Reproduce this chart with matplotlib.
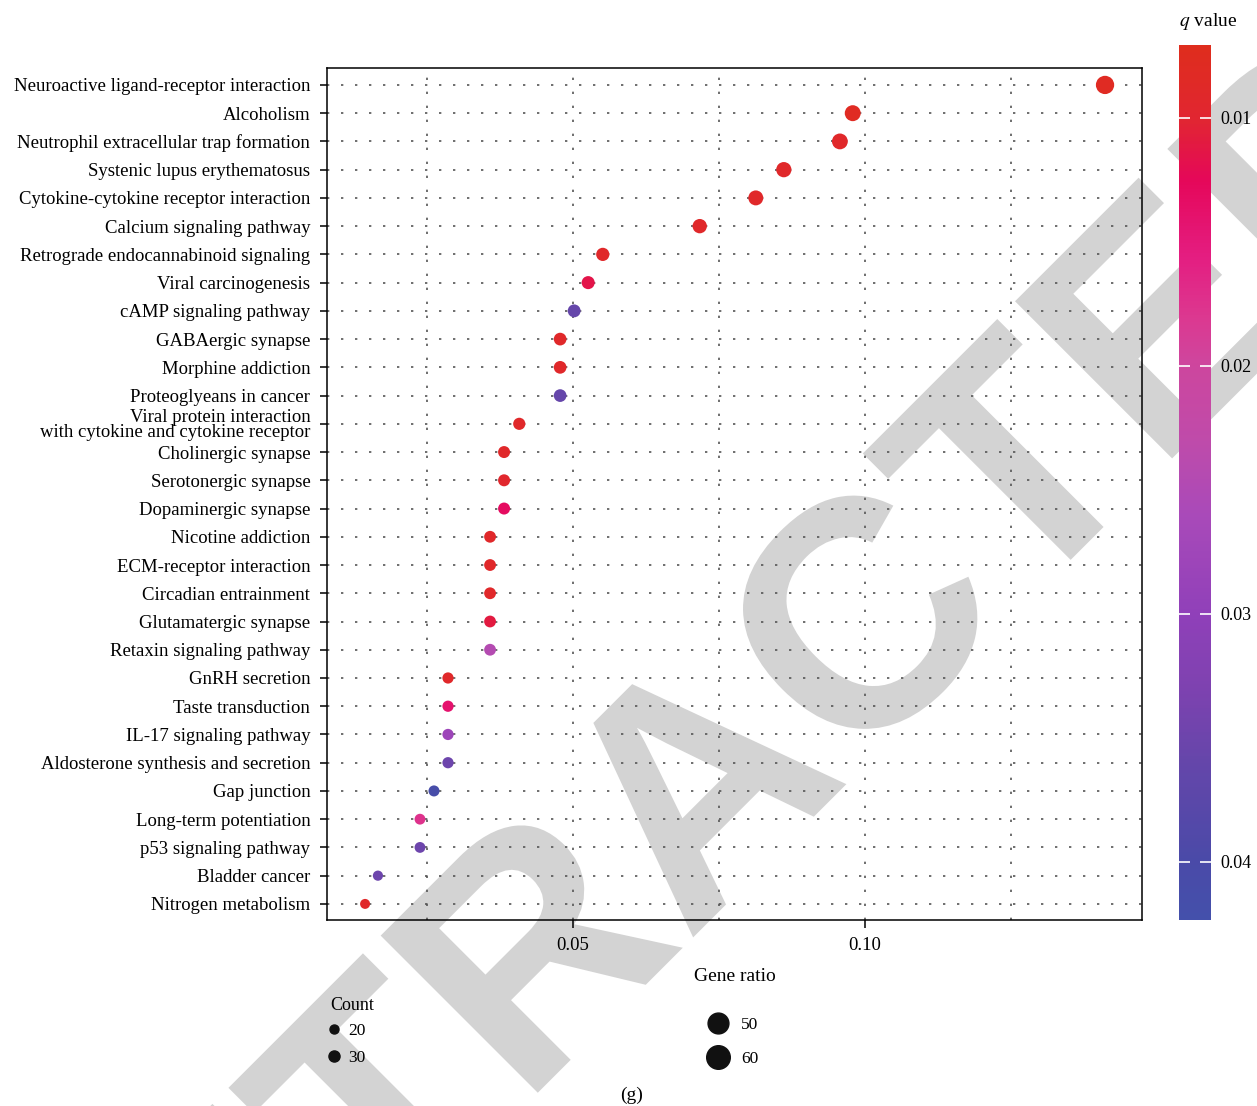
import numpy as np
import matplotlib
matplotlib.use("Agg")
import matplotlib.pyplot as plt
from matplotlib.colors import LinearSegmentedColormap, Normalize
from matplotlib.lines import Line2D
from matplotlib.textpath import TextPath
from matplotlib.patches import PathPatch
from matplotlib.font_manager import FontProperties
from matplotlib.transforms import Affine2D, IdentityTransform
import matplotlib.cm as cm

plt.rcParams['font.family'] = ['Liberation Serif', 'DejaVu Serif']
plt.rcParams['mathtext.fontset'] = 'stix'

# data (top to bottom)
pathways = [
    "Neuroactive ligand-receptor interaction", "Alcoholism",
    "Neutrophil extracellular trap formation", "Systenic lupus erythematosus",
    "Cytokine-cytokine receptor interaction", "Calcium signaling pathway",
    "Retrograde endocannabinoid signaling", "Viral carcinogenesis",
    "cAMP signaling pathway", "GABAergic synapse", "Morphine addiction",
    "Proteoglyeans in cancer",
    "Viral protein interaction\nwith cytokine and cytokine receptor",
    "Cholinergic synapse", "Serotonergic synapse", "Dopaminergic synapse",
    "Nicotine addiction", "ECM-receptor interaction", "Circadian entrainment",
    "Glutamatergic synapse", "Retaxin signaling pathway", "GnRH secretion",
    "Taste transduction", "IL-17 signaling pathway",
    "Aldosterone synthesis and secretion", "Gap junction",
    "Long-term potentiation", "p53 signaling pathway", "Bladder cancer",
    "Nitrogen metabolism",
]
gene_ratio = [0.1411, 0.0979, 0.0957, 0.0861, 0.0813, 0.0717, 0.0551, 0.0526,
              0.0502, 0.0478, 0.0478, 0.0478, 0.0408, 0.0382, 0.0382, 0.0382,
              0.0358, 0.0358, 0.0358, 0.0358, 0.0358, 0.0286, 0.0286, 0.0286,
              0.0286, 0.0262, 0.0238, 0.0238, 0.0166, 0.0144]
count = [59, 41, 40, 36, 34, 30, 23, 22, 21, 20, 20, 20, 17, 16, 16, 16,
         15, 15, 15, 15, 15, 12, 12, 12, 12, 11, 10, 10, 7, 6]
q_value = [0.008, 0.008, 0.009, 0.009, 0.009, 0.009, 0.009, 0.0115, 0.036,
           0.009, 0.009, 0.036, 0.009, 0.009, 0.0095, 0.013, 0.009, 0.009,
           0.009, 0.011, 0.0245, 0.009, 0.014, 0.028, 0.035, 0.041, 0.0175,
           0.035, 0.035, 0.009]

# colour bar gradient (q value -> colour)
cbar_q = [0.00706, 0.010, 0.0125, 0.0155, 0.018, 0.020, 0.023, 0.026,
          0.030, 0.033, 0.036, 0.040, 0.04234]
cbar_colors = ["#DF2D1D", "#E12631", "#E5075A", "#E41D80", "#DC3890",
               "#CD469E", "#BF4BAA", "#A94AB9", "#9040B9", "#7E42B0",
               "#6546AA", "#4A4AA8", "#4450AB"]
q_min, q_max = cbar_q[0], cbar_q[-1]
nodes = [(q - q_min) / (q_max - q_min) for q in cbar_q]
cmap = LinearSegmentedColormap.from_list("qcol", list(zip(nodes, cbar_colors)))
norm = Normalize(vmin=q_min, vmax=q_max)

W, H = 1257, 1106
fig = plt.figure(figsize=(W / 100, H / 100), dpi=100)

# RETRACTED watermark behind everything
fp = FontProperties(family='Liberation Sans', weight='bold')
tp = TextPath((0, 0), "RETRACTED", size=1, prop=fp)
bb = tp.get_extents()
tr = (Affine2D().translate(-(bb.x0 + bb.x1) / 2, -0.358)
      .scale(323).rotate_deg(45).translate(691, H - 776))
wm = PathPatch(tr.transform_path(tp), facecolor="#D3D3D3", edgecolor="none",
               transform=IdentityTransform(), zorder=-5)
fig.add_artist(wm)

ax = fig.add_axes([327 / W, 1 - 920 / H, (1142 - 327) / W, (920 - 68) / H])
ax.set_facecolor("none")

y = np.arange(len(pathways))
sizes = [0.5184 * (73 + 4.43 * c) for c in count]
ax.scatter(gene_ratio, y, s=sizes, c=q_value, cmap=cmap, norm=norm,
           edgecolors="none", zorder=3)

ax.set_xlim(0.00788, 0.14743)
ax.set_ylim(29.57, -0.60)
ax.set_yticks(y)
ax.set_yticklabels(pathways, fontsize=13.5, linespacing=0.85)
ax.set_xticks([0.05, 0.10])
ax.set_xticklabels(["0.05", "0.10"], fontsize=13.5)
ax.set_xticks([0.025, 0.075, 0.125], minor=True)
ax.tick_params(axis="x", which="major", length=6, width=1.1, pad=6)
ax.tick_params(axis="x", which="minor", length=0)
ax.tick_params(axis="y", length=5, width=1.1, pad=7)
dot = (0, (1.4, 7))
ax.grid(True, axis="y", color="#555555", linestyle=dot, linewidth=1.2)
ax.grid(True, axis="x", which="both", color="#555555", linestyle=dot, linewidth=1.2)
for sp in ax.spines.values():
    sp.set_linewidth(1.1)
ax.set_xlabel("Gene ratio", fontsize=14, labelpad=10)

# colour bar
cax = fig.add_axes([1179 / W, 1 - 920 / H, 32 / W, 875 / H])
sm = cm.ScalarMappable(norm=norm, cmap=cmap)
cb = fig.colorbar(sm, cax=cax)
cb.outline.set_visible(False)
cax.invert_yaxis()
cb.set_ticks([0.01, 0.02, 0.03, 0.04])
cb.set_ticklabels(["0.01", "0.02", "0.03", "0.04"])
cax.tick_params(direction="in", color="white", left=True, right=True,
                length=8, width=1.2, labelsize=13, pad=7)
fig.text(1208 / W, 1 - 22 / H, "$q$ value", fontsize=14,
         ha="center", va="center")

# size legends
fig.text(330 / W, 1 - 1006 / H, "Count", fontsize=13, ha="left", va="center")
h1 = [Line2D([], [], marker="o", linestyle="none", color="#111111", markersize=ms)
      for ms in [6.5, 8]]
leg1 = fig.legend(h1, ["20", "30"], loc="upper left",
                  bbox_to_anchor=(320 / W, 1 - 1014 / H), frameon=False,
                  fontsize=12.5, handletextpad=0.5,
                  labelspacing=0.65, borderpad=0, handlelength=0.6)
h2 = [Line2D([], [], marker="o", linestyle="none", color="#111111", markersize=ms)
      for ms in [15, 17]]
leg2 = fig.legend(h2, ["50", "60"], loc="upper left",
                  bbox_to_anchor=(696 / W, 1 - 1008 / H), frameon=False,
                  fontsize=12.5, handletextpad=0.6, labelspacing=1.05,
                  borderpad=0, handlelength=1.5)

fig.text(632 / W, 1 - 1095 / H, "(g)", fontsize=14, ha="center", va="center")

fig.savefig("out.png", dpi=100)
